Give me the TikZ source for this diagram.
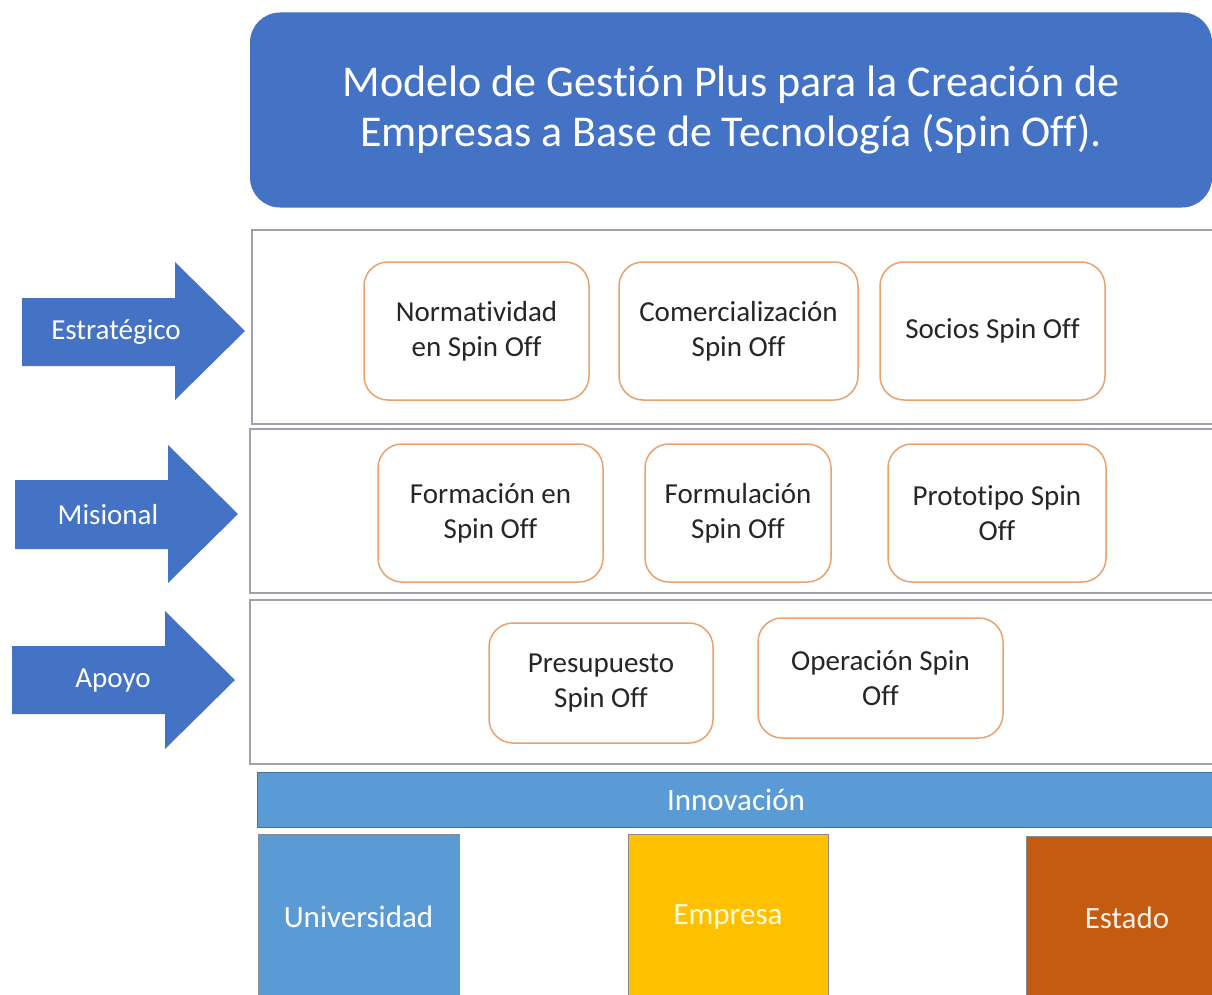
\documentclass[tikz,border=0pt]{standalone}
\usepackage{fontspec}
\setmainfont[Ligatures={NoCommon}]{Carlito}
\usetikzlibrary{positioning}
\definecolor{titleblue}{HTML}{4472C4}
\definecolor{lightblue}{HTML}{5B9BD5}
\definecolor{darkblue}{HTML}{41719C}
\definecolor{gold}{HTML}{FFC000}
\definecolor{rust}{HTML}{C55A11}
\definecolor{boxorange}{HTML}{E8A26E}
\definecolor{rowgray}{HTML}{9EA2AA}
\definecolor{textgray}{HTML}{262626}

\begin{document}
\begin{tikzpicture}[x=1pt,y=-1pt,
    spinbox/.style={draw=boxorange,line width=1.5pt,fill=white,rounded corners=24pt,
      align=center,text=textgray,font=\fontsize{29}{35}\selectfont},
    rowframe/.style={draw=rowgray,line width=2pt},
    armlabel/.style={text=white,font=\fontsize{29}{35}\selectfont},
    pillar/.style={draw=black!45,line width=1pt,font=\fontsize{31}{37}\selectfont}]
      \clip (0,0) rectangle (1212,995);
      % title
      \node[fill=titleblue,rounded corners=30pt,minimum width=962pt,minimum height=195pt,
        align=center,text=white,font=\fontsize{44}{50}\selectfont] (title) at (731,110)
        {Modelo de Gestión Plus para la Creación de\\Empresas a Base de Tecnología (Spin Off).};
      % levels
      \draw[rowframe] (252,230) rectangle (1216,424);
      \draw[rowframe] (250,429) rectangle (1216,593);
      \draw[rowframe] (250,600) rectangle (1216,764);
      \fill[titleblue] (22,298) -- (175,298) -- (175,262) -- (245,331) -- (175,400) -- (175,366) -- (22,366) -- cycle;
      \fill[titleblue] (15,480) -- (168,480) -- (168,445) -- (238,514) -- (168,583) -- (168,549) -- (15,549) -- cycle;
      \fill[titleblue] (12,646) -- (165,646) -- (165,611) -- (235,680) -- (165,749) -- (165,714) -- (12,714) -- cycle;
      \node[armlabel] (estr) at (116,332) {Estratégico};
      \node[armlabel] (mis) at (108,515) {Misional};
      \node[armlabel] (apoyo) at (113,681) {Apoyo};
      % processes
      \node[spinbox,minimum width=225pt,minimum height=138pt] (norm) at (476.5,331) {Normatividad\\en Spin Off};
      \node[spinbox,minimum width=239pt,minimum height=138pt] (comer) at (738.5,331) {Comercialización\\Spin Off};
      \node[spinbox,minimum width=225pt,minimum height=138pt] (socios) at (992.5,331) {Socios Spin Off};
      \node[spinbox,minimum width=225pt,minimum height=138pt] (forma) at (490.5,513) {Formación en\\Spin Off};
      \node[spinbox,minimum width=186pt,minimum height=138pt] (formu) at (738,513) {Formulación\\Spin Off};
      \node[spinbox,minimum width=218pt,minimum height=138pt] (proto) at (997,513) {Prototipo Spin\\Off};
      \node[spinbox,minimum width=224pt,minimum height=120pt] (presu) at (601,683) {Presupuesto\\Spin Off};
      \node[spinbox,minimum width=245pt,minimum height=120pt] (opera) at (880.5,678) {Operación Spin\\Off};
      % base
      \node[fill=lightblue,draw=darkblue,line width=1pt,minimum width=958pt,minimum height=55pt,
        text=white,font=\fontsize{31}{37}\selectfont] (innov) at (736,799.5) {Innovación};
      \node[pillar,fill=lightblue,text=white,minimum width=201pt,minimum height=166pt] (univ) at (358.5,917) {Universidad};
      \node[pillar,fill=gold,text=yellow!15,minimum width=200pt,minimum height=166pt] (empresa) at (728,917) {Empresa};
      \node[pillar,fill=rust,text=orange!10,minimum width=202pt,minimum height=164pt] (estado) at (1127,918) {Estado};
\end{tikzpicture}
\end{document}
